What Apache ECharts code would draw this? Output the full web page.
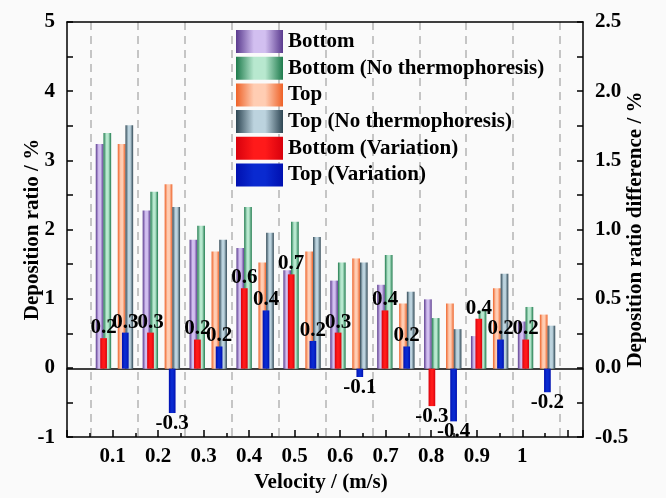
<!DOCTYPE html>
<html>
<head>
<meta charset="utf-8">
<script src="https://cdn.jsdelivr.net/npm/echarts@6/dist/echarts.min.js"></script>
<style>
html,body{margin:0;padding:0;background:#fafafa;}
#chart{width:666px;height:498px;}
</style>
</head>
<body>
<div id="chart"></div>
<script>
// ---- data ----
const categories = ['0.1','0.2','0.3','0.4','0.5','0.6','0.7','0.8','0.9','1'];
const bottomVals      = [3.24, 2.28, 1.86, 1.74, 1.42, 1.27, 1.21, 1.00, 0.47, 0.68];
const bottomNoThermo  = [3.40, 2.55, 2.06, 2.33, 2.12, 1.53, 1.64, 0.73, 0.84, 0.89];
const topVals         = [3.24, 2.66, 1.69, 1.53, 1.69, 1.59, 0.94, 0.94, 1.16, 0.78];
const topNoThermo     = [3.51, 2.33, 1.86, 1.96, 1.90, 1.53, 1.11, 0.57, 1.37, 0.62];
const bottomVariation = [0.22, 0.26, 0.21, 0.58, 0.68, 0.26, 0.42, -0.27, 0.36, 0.21];
const topVariation    = [0.26, -0.32, 0.16, 0.42, 0.20, -0.06, 0.16, -0.38, 0.21, -0.17];
const leftTicks  = {min: -1, max: 5, interval: 1};
const rightTicks = {min: -0.5, max: 2.5, interval: 0.5};
const velocityTicks = {min: 0, max: 1.1333, interval: 0.1};
const seriesNames = ['Bottom','Bottom (No thermophoresis)','Top','Top (No thermophoresis)','Bottom (Variation)','Top (Variation)'];

const FONT = 'Liberation Serif';
const FS = 21;
function grad(edge, mid){
  return {type:'linear',x:0,y:0,x2:1,y2:0,colorStops:[
    {offset:0,color:edge},{offset:0.38,color:mid},{offset:0.62,color:mid},{offset:1,color:edge}]};
}
const colors = [
  grad('#5a3a8e','#d2bff0'),
  grad('#1e7a4c','#b8e8cf'),
  grad('#ee6228','#ffcdb3'),
  grad('#2e4653','#bcd3de'),
  grad('#d8000c','#ff1a1a'),
  grad('#0010b0','#0a2ad0')
];
const mainW = 7.7, spaceW = 6.6, varW = 6.7, varSpace = 15;

function mainBar(i, vals){
  return {name: seriesNames[i], type:'bar', xAxisIndex:0, yAxisIndex:0, data: vals,
    barWidth: mainW, barGap:'0%', itemStyle:{color: colors[i]}, z:2};
}
function spacer(axisIdx, w){
  return {type:'bar', xAxisIndex:axisIdx, yAxisIndex:axisIdx, data: categories.map(()=>0),
    barWidth:w, barGap:'0%', silent:true, itemStyle:{color:'rgba(0,0,0,0)'}};
}
function varBar(i, vals){
  return {name: seriesNames[i], type:'bar', xAxisIndex:1, yAxisIndex:1,
    data: vals.map(v => ({value: v, label:{position: v < 0 ? 'bottom' : 'top'}})),
    barWidth: varW, barGap:'0%', itemStyle:{color: colors[i]}, z:3,
    label:{show:true, distance:0, fontFamily:FONT, fontWeight:'bold', fontSize:FS, color:'#000',
      formatter: p => p.value.toFixed(1)}};
}

const axisTxt = {fontFamily:FONT, fontWeight:'bold', fontSize:FS, color:'#000'};
const lineSty = {color:'#000', width:1.5};
const chart = echarts.init(document.getElementById('chart'), null, {renderer:'canvas'});
chart.setOption({
  backgroundColor:'#fafafa',
  animation:false,
  legend:{
    orient:'vertical', left:231, top:25, itemWidth:47, itemHeight:23, itemGap:3.7,
    icon:'rect', data: seriesNames,
    textStyle:{fontFamily:FONT, fontWeight:'bold', fontSize:FS, color:'#000'}
  },
  grid:[
    {left:91, right:106, top:22, bottom:60},
    {left:67, right:83, top:22, bottom:60},
    {left:67, right:83, top:22, bottom:60}
  ],
  xAxis:[
    {type:'category', gridIndex:0, data:categories, boundaryGap:true,
     axisLine:{show:false}, axisTick:{show:false}, axisLabel:{show:false},
     splitLine:{show:true, interval:0, lineStyle:{color:'#b4b4b4', width:1.5, type:[8,6]}}},
    {type:'category', gridIndex:0, data:categories, boundaryGap:true, show:false},
    {type:'value', gridIndex:1, position:'bottom', min:velocityTicks.min, max:velocityTicks.max, interval:velocityTicks.interval,
     name:'Velocity / (m/s)', nameLocation:'middle', nameGap:33, nameTextStyle:Object.assign({padding:[0,8,0,0]}, axisTxt),
     axisLine:{show:true, onZero:false, lineStyle:lineSty},
     axisTick:{show:true, inside:true, length:7, lineStyle:lineSty},
     minorTick:{show:true, splitNumber:2, length:4, lineStyle:lineSty},
     axisLabel:Object.assign({margin:9, showMaxLabel:false, showMinLabel:false,
       formatter: v => (v < 0.05 || v > 1.05) ? '' : String(Math.round(v*10)/10)}, axisTxt),
     splitLine:{show:false}},
    {type:'value', gridIndex:1, position:'top', min:velocityTicks.min, max:velocityTicks.max,
     axisLine:{show:true, onZero:false, lineStyle:lineSty}, axisTick:{show:false}, axisLabel:{show:false}, splitLine:{show:false}},
    {type:'value', gridIndex:2, min:0, max:1,
     axisLine:{show:true, onZero:true, lineStyle:lineSty}, axisTick:{show:false}, axisLabel:{show:false}, splitLine:{show:false}}
  ],
  yAxis:[
    {type:'value', gridIndex:0, min:leftTicks.min, max:leftTicks.max, show:false},
    {type:'value', gridIndex:0, min:rightTicks.min, max:rightTicks.max, show:false},
    {type:'value', gridIndex:1, position:'left', min:leftTicks.min, max:leftTicks.max, interval:leftTicks.interval,
     name:'Deposition ratio / %', nameLocation:'middle', nameRotate:90, nameGap:24, nameMoveOverlap:false, nameTextStyle:axisTxt,
     axisLine:{show:true, onZero:false, lineStyle:lineSty},
     axisTick:{show:true, inside:true, length:6, lineStyle:lineSty},
     minorTick:{show:true, splitNumber:2, length:6, lineStyle:lineSty},
     axisLabel:Object.assign({margin:12}, axisTxt), splitLine:{show:false}},
    {type:'value', gridIndex:1, position:'right', min:rightTicks.min, max:rightTicks.max, interval:rightTicks.interval,
     name:'Deposition ratio difference / %', nameLocation:'middle', nameRotate:90, nameGap:42, nameMoveOverlap:false, nameTextStyle:axisTxt,
     axisLine:{show:true, onZero:false, lineStyle:lineSty},
     axisTick:{show:true, inside:true, length:6, lineStyle:lineSty},
     minorTick:{show:true, splitNumber:2, length:6, lineStyle:lineSty},
     axisLabel:Object.assign({margin:12, formatter: v => v.toFixed(1)}, axisTxt), splitLine:{show:false}},
    {type:'value', gridIndex:2, min:leftTicks.min, max:leftTicks.max, show:false}
  ],
  series:[
    mainBar(0, bottomVals),
    mainBar(1, bottomNoThermo),
    spacer(0, spaceW),
    mainBar(2, topVals),
    mainBar(3, topNoThermo),
    varBar(4, bottomVariation),
    spacer(1, varSpace),
    varBar(5, topVariation)
  ]
});
</script>
</body>
</html>
